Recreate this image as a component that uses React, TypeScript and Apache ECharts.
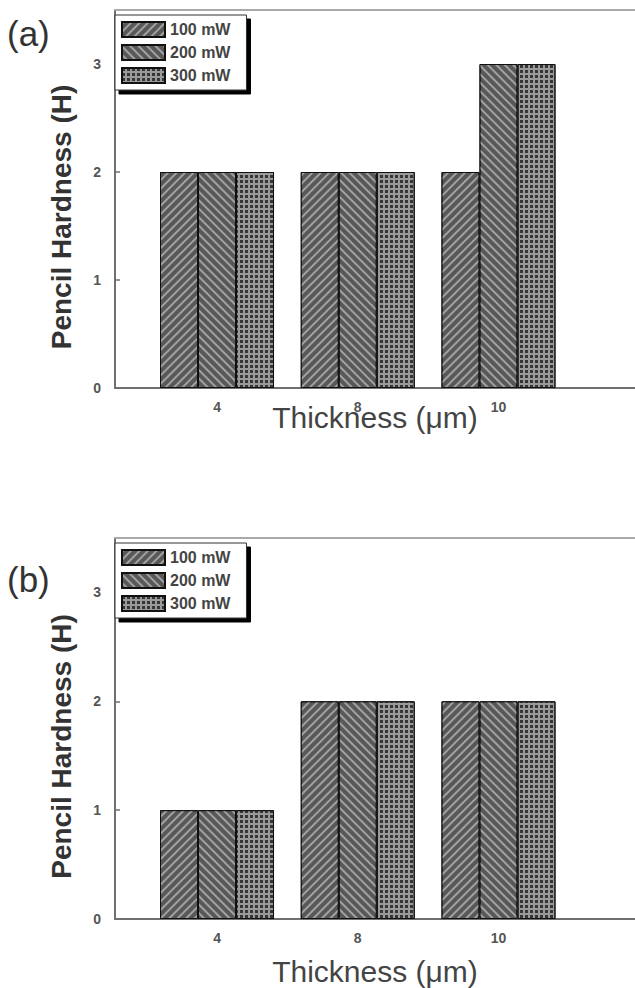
import React, { useEffect, useRef } from "react";
import * as echarts from "echarts";

const categories = ["4", "8", "10"];
const seriesNames = ["100 mW", "200 mW", "300 mW"];
const panelA_100 = [2, 2, 2];
const panelA_200 = [2, 2, 3];
const panelA_300 = [2, 2, 3];
const panelB_100 = [1, 2, 2];
const panelB_200 = [1, 2, 2];
const panelB_300 = [1, 2, 2];
const yTickValues = [0, 1, 2, 3];
const xTickValues = [0, 1, 2];

const FONT = "'Liberation Sans', Arial, sans-serif";
const AXIS_COLOR = "#6f6f6f";

const barStyles = [
  {
    color: "#585858",
    borderColor: "#111",
    borderWidth: 1,
    decal: {
      symbol: "rect",
      symbolSize: 1,
      color: "rgba(220,220,220,0.55)",
      dashArrayX: [1, 0],
      dashArrayY: [1.5, 3.5],
      rotation: -Math.PI / 4,
    },
  },
  {
    color: "#585858",
    borderColor: "#111",
    borderWidth: 1,
    decal: {
      symbol: "rect",
      symbolSize: 1,
      color: "rgba(220,220,220,0.55)",
      dashArrayX: [1, 0],
      dashArrayY: [1.5, 3.5],
      rotation: Math.PI / 4,
    },
  },
  {
    color: "#9a9a9a",
    borderColor: "#111",
    borderWidth: 1,
    decal: {
      symbol: "rect",
      symbolSize: 1,
      color: "#363636",
      dashArrayX: [3, 1.3],
      dashArrayY: [3, 1.3],
      rotation: 0,
    },
  },
];

function toPairs(values: number[]) {
  return values.map((v, i) => [i, v]);
}

export default function App() {
  const ref = useRef<HTMLDivElement>(null);

  useEffect(() => {
    document.body.style.margin = "0";
    if (!ref.current) return;
    const chart = echarts.init(ref.current, undefined, { renderer: "svg" });

    const grids = [
      { left: 115, right: 0, top: 10, height: 378 },
      { left: 115, right: 0, top: 538, height: 381 },
    ];

    const xBottom = (gridIndex: number, nameGap: number) => ({
      type: "value",
      gridIndex,
      position: "bottom",
      min: -0.725,
      max: 2.97,
      name: "Thickness (\u03bcm)",
      nameLocation: "middle",
      nameGap,
      nameMoveOverlap: false,
      nameTextStyle: { fontFamily: FONT, fontSize: 30, color: "#444" },
      axisLine: { show: true, onZero: false, lineStyle: { color: AXIS_COLOR, width: 2 } },
      axisTick: { show: false },
      splitLine: { show: false },
      axisLabel: {
        customValues: xTickValues,
        formatter: (v: number) => categories[Math.round(v)] ?? "",
        fontFamily: FONT,
        fontSize: 14,
        fontWeight: "bold",
        color: "#555",
        margin: 12,
      },
    });

    const xTop = (gridIndex: number) => ({
      type: "value",
      gridIndex,
      position: "top",
      min: 0,
      max: 1,
      axisLine: { show: true, onZero: false, lineStyle: { color: "#aaa", width: 2 } },
      axisTick: { show: false },
      axisLabel: { show: false },
      splitLine: { show: false },
    });

    const yAxis = (gridIndex: number) => ({
      type: "value",
      gridIndex,
      position: "left",
      min: 0,
      max: 3.5,
      interval: 1,
      name: "Pencil Hardness (H)",
      nameLocation: "middle",
      nameRotate: 90,
      nameGap: 40,
      nameMoveOverlap: false,
      nameTextStyle: {
        fontFamily: FONT,
        fontSize: 28,
        fontWeight: "bold",
        color: "#333",
        padding: [0, 36, 0, 0],
      },
      axisLine: { show: true, onZero: false, lineStyle: { color: AXIS_COLOR, width: 2 } },
      axisTick: {
        show: true,
        inside: true,
        length: 5,
        customValues: yTickValues,
        lineStyle: { color: AXIS_COLOR, width: 1.5 },
      },
      splitLine: { show: false },
      axisLabel: {
        customValues: yTickValues,
        fontFamily: FONT,
        fontSize: 14,
        fontWeight: "bold",
        color: "#555",
        margin: 14,
      },
    });

    const legend = (top: number) => ({
      orient: "vertical",
      left: 115,
      top,
      data: seriesNames,
      icon: "rect",
      itemWidth: 43,
      itemHeight: 15,
      itemGap: 6,
      padding: [6, 16, 6, 6],
      backgroundColor: "#fff",
      borderColor: "#333",
      borderWidth: 1,
      shadowColor: "#000",
      shadowOffsetX: 4,
      shadowOffsetY: 4,
      shadowBlur: 0.01,
      selectedMode: false,
      textStyle: { fontFamily: FONT, fontSize: 16, fontWeight: "bold", color: "#444" },
    });

    const panelA = [panelA_100, panelA_200, panelA_300];
    const panelB = [panelB_100, panelB_200, panelB_300];

    const series: any[] = [];
    [panelA, panelB].forEach((panel, p) => {
      panel.forEach((vals, s) => {
        series.push({
          type: "bar",
          name: seriesNames[s],
          xAxisIndex: p,
          yAxisIndex: p,
          data: toPairs(vals),
          barWidth: 38,
          barGap: "0%",
          itemStyle: barStyles[s],
        });
      });
    });

    chart.setOption({
      animation: false,
      backgroundColor: "#fff",
      grid: grids,
      xAxis: [xBottom(0, 14), xBottom(1, 37), xTop(0), xTop(1)],
      yAxis: [yAxis(0), yAxis(1)],
      legend: [legend(15), legend(543)],
      series,
      graphic: [
        {
          type: "text",
          left: 7,
          top: 16,
          style: { text: "(a)", fontFamily: FONT, fontSize: 35, fill: "#333" },
        },
        {
          type: "text",
          left: 7,
          top: 562,
          style: { text: "(b)", fontFamily: FONT, fontSize: 35, fill: "#333" },
        },
      ],
    });

    return () => chart.dispose();
  }, []);

  return <div ref={ref} style={{ width: 635, height: 988 }} />;
}
